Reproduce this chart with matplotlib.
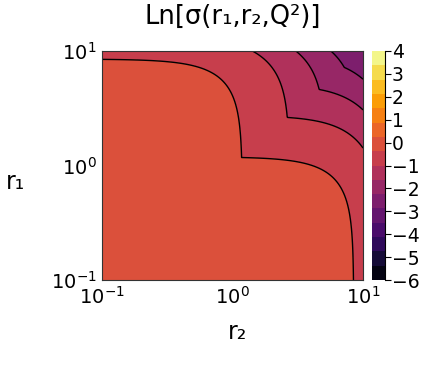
import numpy as np
import matplotlib
matplotlib.use("Agg")
import matplotlib.pyplot as plt

# ---- data ----
title_text = "Ln[σ(r₁,r₂,Q²)]"
x_label = "r₂"
y_label = "r₁"
r_min, r_max = 0.1, 10.0
levels = np.linspace(-6, 4, 17)          # colour band boundaries
cbar_ticks = [-6, -5, -4, -3, -2, -1, 0, 1, 2, 3, 4]
axis_ticks = [0.1, 1, 10]
axis_ticklabels = ["$10^{-1}$", "$10^{0}$", "$10^{1}$"]

# surface model  Ln σ = G(min(r1,r2)) + H(max(r1,r2)), parameters fitted to contour crossings
g_amp = 0.55      # strength of the smaller-dipole term
g_r0sq = 1.448    # its saturation scale (r0^2)
h_coef = 0.0052   # quadratic fall-off with the larger dipole

n = 500
r1 = np.logspace(np.log10(r_min), np.log10(r_max), n)
r2 = np.logspace(np.log10(r_min), np.log10(r_max), n)
R2, R1 = np.meshgrid(r2, r1)
rs = np.minimum(R1, R2)
rl = np.maximum(R1, R2)
Z = -g_amp * np.log(1 + rs**2 / g_r0sq) - h_coef * rl**2

# ---- figure ----
W, H = 429, 365
fig = plt.figure(figsize=(W / 100, H / 100), dpi=100)
ax = fig.add_axes([102 / W, 1 - 280 / H, 261 / W, 229 / H])
cf = ax.contourf(R2, R1, Z, levels=levels, cmap="inferno")
ax.contour(R2, R1, Z, levels=levels, colors="black", linewidths=1.0,
           linestyles="solid")
ax.set_xscale("log")
ax.set_yscale("log")
ax.set_xlim(r_min, r_max)
ax.set_ylim(r_min, r_max)
ax.set_xticks(axis_ticks)
ax.set_xticklabels(axis_ticklabels)
ax.set_yticks(axis_ticks)
ax.set_yticklabels(axis_ticklabels)
ax.minorticks_off()
ax.tick_params(length=0, labelsize=14, pad=4)
for s in ax.spines.values():
    s.set_linewidth(0.8)
    s.set_color("#333333")

fig.text(233 / W, 1 - 17 / H, title_text, fontsize=18.5, ha="center", va="center")
fig.text(238 / W, 1 - 332 / H, x_label, fontsize=17, ha="center", va="center")
fig.text(15 / W, 1 - 182 / H, y_label, fontsize=17, ha="center", va="center")

cax = fig.add_axes([372 / W, 1 - 280 / H, 13 / W, 229 / H])
cb = fig.colorbar(cf, cax=cax, ticks=cbar_ticks)
cb.outline.set_visible(False)
cax.plot([1, 1], [0, 1], transform=cax.transAxes, color="black", lw=0.8, clip_on=False)
cax.tick_params(labelsize=13.5, length=4, width=0.8, pad=1)
cax.minorticks_off()

fig.savefig("out.png", dpi=100)
